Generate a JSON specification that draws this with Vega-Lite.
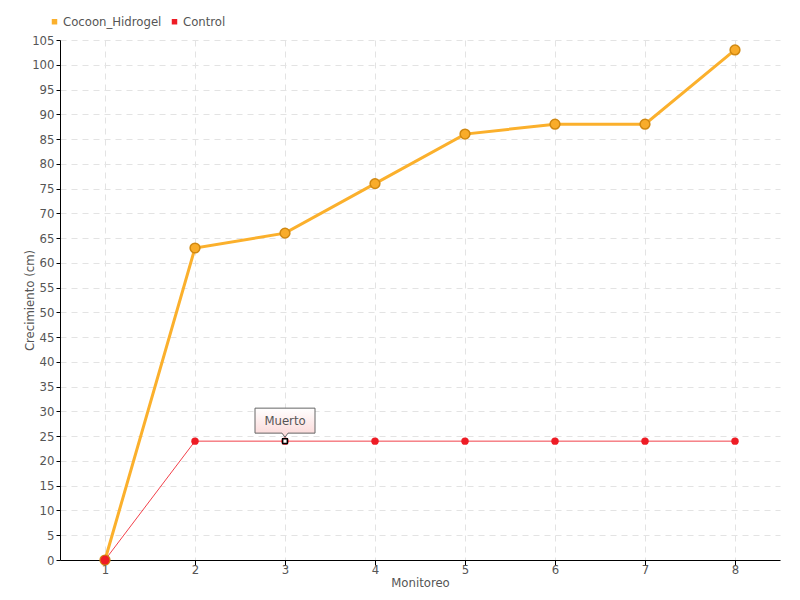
{
  "$schema": "https://vega.github.io/schema/vega-lite/v6.json",
  "autosize": "none",
  "width": 720,
  "height": 520,
  "padding": {"left": 60, "top": 40, "right": 20, "bottom": 40},
  "background": "white",
  "config": {
    "font": "DejaVu Sans Condensed",
    "view": {"stroke": null},
    "axis": {
      "labelFont": "DejaVu Sans Condensed",
      "titleFont": "DejaVu Sans Condensed",
      "labelColor": "#555555",
      "titleColor": "#555555",
      "labelFontSize": 13,
      "titleFontSize": 13,
      "titleFontWeight": "normal",
      "domainColor": "#000000",
      "tickColor": "#000000",
      "gridColor": "#e3e3e3",
      "gridDash": [6, 5],
      "gridWidth": 1
    }
  },
  "datasets": {
    "series": [
      {"Monitoreo": 1, "Crecimiento": 0, "Serie": "Cocoon_Hidrogel"},
      {"Monitoreo": 2, "Crecimiento": 63, "Serie": "Cocoon_Hidrogel"},
      {"Monitoreo": 3, "Crecimiento": 66, "Serie": "Cocoon_Hidrogel"},
      {"Monitoreo": 4, "Crecimiento": 76, "Serie": "Cocoon_Hidrogel"},
      {"Monitoreo": 5, "Crecimiento": 86, "Serie": "Cocoon_Hidrogel"},
      {"Monitoreo": 6, "Crecimiento": 88, "Serie": "Cocoon_Hidrogel"},
      {"Monitoreo": 7, "Crecimiento": 88, "Serie": "Cocoon_Hidrogel"},
      {"Monitoreo": 8, "Crecimiento": 103, "Serie": "Cocoon_Hidrogel"},
      {"Monitoreo": 1, "Crecimiento": 0, "Serie": "Control"},
      {"Monitoreo": 2, "Crecimiento": 24, "Serie": "Control"},
      {"Monitoreo": 3, "Crecimiento": 24, "Serie": "Control"},
      {"Monitoreo": 4, "Crecimiento": 24, "Serie": "Control"},
      {"Monitoreo": 5, "Crecimiento": 24, "Serie": "Control"},
      {"Monitoreo": 6, "Crecimiento": 24, "Serie": "Control"},
      {"Monitoreo": 7, "Crecimiento": 24, "Serie": "Control"},
      {"Monitoreo": 8, "Crecimiento": 24, "Serie": "Control"}
    ],
    "note": [
      {"Monitoreo": 3, "Crecimiento": 24, "label": "Muerto"}
    ]
  },
  "encoding": {
    "x": {
      "field": "Monitoreo", "type": "quantitative",
      "scale": {"domain": [0.5, 8.5], "nice": false, "zero": false},
      "axis": {"values": [1, 2, 3, 4, 5, 6, 7, 8], "format": "d", "title": "Monitoreo", "titlePadding": 0, "tickSize": 5, "labelPadding": -2}
    },
    "y": {
      "field": "Crecimiento", "type": "quantitative",
      "scale": {"domain": [0, 105], "nice": false},
      "axis": {"values": [0,5,10,15,20,25,30,35,40,45,50,55,60,65,70,75,80,85,90,95,100,105], "title": "Crecimiento (cm)", "titlePadding": -5, "tickSize": 4, "labelPadding": 2}
    }
  },
  "layer": [
    {
      "data": {"name": "series"},
      "transform": [{"filter": "datum.Serie === 'Cocoon_Hidrogel'"}],
      "mark": {"type": "line", "color": "#FBB02C", "strokeWidth": 3},
      "encoding": {}
    },
    {
      "data": {"name": "series"},
      "transform": [{"filter": "datum.Serie === 'Control'"}],
      "mark": {"type": "line", "color": "#F2404A", "strokeWidth": 1},
      "encoding": {}
    },
    {
      "data": {"name": "series"},
      "transform": [{"filter": "datum.Serie === 'Cocoon_Hidrogel'"}],
      "mark": {"type": "point", "filled": true, "shape": "circle", "size": 95, "fill": "#F9AC2A", "stroke": "#D08812", "strokeWidth": 1.5, "opacity": 1},
      "encoding": {}
    },
    {
      "data": {"name": "series"},
      "transform": [{"filter": "datum.Serie === 'Control'"}],
      "mark": {"type": "point", "filled": true, "shape": "circle", "size": 55, "opacity": 1},
      "encoding": {
        "color": {
          "field": "Serie", "type": "nominal",
          "scale": {"domain": ["Cocoon_Hidrogel", "Control"], "range": ["#FBB02C", "#EE1C25"]},
          "legend": {
            "title": null, "orient": "none", "direction": "horizontal",
            "legendX": -12, "legendY": -25,
            "symbolType": "square", "symbolSize": 30, "symbolOpacity": 1,
            "labelFont": "DejaVu Sans Condensed", "labelFontSize": 13, "labelColor": "#555555",
            "labelOffset": 2, "columnPadding": 6
          }
        }
      }
    },
    {
      "data": {"name": "series"},
      "transform": [{"filter": "datum.Serie === 'Control' && datum.Monitoreo === 1"}],
      "mark": {"type": "point", "filled": true, "shape": "circle", "size": 80, "fill": "#EE1C25", "opacity": 1},
      "encoding": {}
    },
    {
      "data": {"name": "note"},
      "mark": {"type": "point", "filled": true, "shape": "square", "size": 22, "fill": "white", "stroke": "#000000", "strokeWidth": 1.5, "opacity": 1},
      "encoding": {}
    },
    {
      "data": {"name": "note"},
      "mark": {
        "type": "point", "filled": true, "size": 3600, "opacity": 1,
        "shape": "M-1,-1.1H1V-0.267H0.1L0,-0.13L-0.1,-0.267H-1Z",
        "fill": {"gradient": "linear", "x1": 0, "y1": 0, "x2": 0, "y2": 1, "stops": [{"offset": 0, "color": "#ffffff"}, {"offset": 1, "color": "#fbd6d6"}]},
        "stroke": "#666666", "strokeWidth": 1
      },
      "encoding": {}
    },
    {
      "data": {"name": "note"},
      "mark": {"type": "text", "dy": -20, "font": "DejaVu Sans Condensed", "fontSize": 13, "color": "#555555"},
      "encoding": {"text": {"field": "label"}}
    }
  ]
}
